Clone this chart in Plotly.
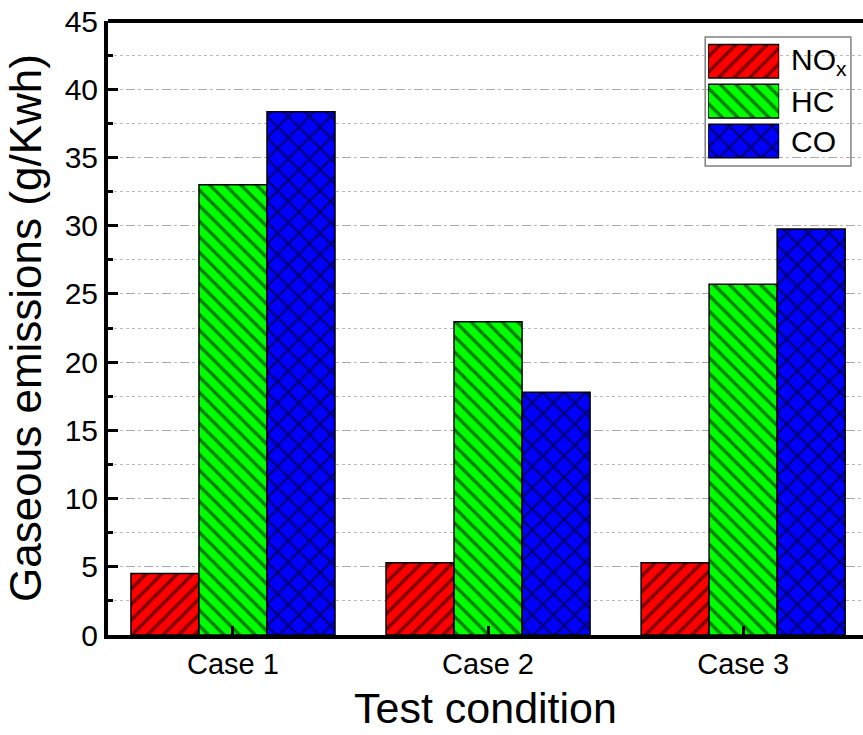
import plotly.graph_objects as go

categories = ["Case 1", "Case 2", "Case 3"]
nox = [4.5, 5.3, 5.3]
hc = [33.0, 22.95, 25.7]
co = [38.35, 17.8, 29.75]

series_names = ["NO<sub>x</sub>", "HC", "CO"]
series_colors = ["#ff0000", "#00ff00", "#0000ff"]
series_patterns = ["/", "\\", "x"]
pattern_sizes = [11, 11, 15]

FONT = "Arial, Liberation Sans, sans-serif"

fig = go.Figure()
for vals, name, col, pat, ps in zip([nox, hc, co], series_names, series_colors, series_patterns, pattern_sizes):
    fig.add_trace(go.Bar(
        x=categories, y=vals, name=name,
        marker=dict(color=col, line=dict(color="black", width=1.5),
                    pattern=dict(shape=pat, fgcolor="black", bgcolor=col, size=ps, solidity=0.3, fillmode="overlay")),
        showlegend=False,
    ))

# custom legend swatches
leg_pos = [2, 1, 0]
for name, col, pat, ps, yp in zip(series_names, series_colors, series_patterns, pattern_sizes, leg_pos):
    fig.add_trace(go.Bar(
        x=[1], y=[yp], orientation="h", width=0.84, xaxis="x2", yaxis="y2",
        marker=dict(color=col, line=dict(color="black", width=1.5),
                    pattern=dict(shape=pat, fgcolor="black", bgcolor=col, size=ps, solidity=0.3, fillmode="overlay")),
        showlegend=False, hoverinfo="skip",
    ))
    fig.add_annotation(text=name, x=0.902, xref="paper", y=yp, yref="y2",
                       xanchor="left", yanchor="middle", showarrow=False,
                       font=dict(family=FONT, size=30, color="black"))

# x axis title as annotation
fig.add_annotation(text="Test condition", x=0.5, xref="paper", y=-0.162, yref="paper",
                   xanchor="center", yanchor="bottom", showarrow=False,
                   font=dict(family=FONT, size=43, color="black"))

fig.update_layout(
    width=863, height=735,
    margin=dict(l=108, r=0, t=21, b=100),
    paper_bgcolor="white", plot_bgcolor="white",
    barmode="group", bargap=0.2, bargroupgap=0,
    font=dict(family=FONT, color="black"),
    xaxis=dict(
        range=[-0.49, 2.47], showline=True, linecolor="black", linewidth=4,
        ticks="inside", ticklen=9, tickwidth=3, tickcolor="black",
        tickfont=dict(size=29), showgrid=False, zeroline=False,
    ),
    yaxis=dict(
        range=[0, 45], tickvals=[0, 5, 10, 15, 20, 25, 30, 35, 40, 45],
        showline=True, linecolor="black", linewidth=4,
        ticks="inside", ticklen=10, tickwidth=3, tickcolor="black",
        tickfont=dict(size=30), zeroline=False,
        showgrid=True, gridcolor="#a8a8a8", gridwidth=1, griddash="dash",
        minor=dict(dtick=2.5, tick0=0, ticks="inside", ticklen=5, tickwidth=3, tickcolor="black",
                   showgrid=True, gridcolor="#b8b8b8", gridwidth=1, griddash="dot"),
        title=dict(text="Gaseous emissions (g/Kwh)", font=dict(size=44), standoff=10),
    ),
    xaxis2=dict(domain=[0.795, 0.889], range=[0, 1], anchor="y2", visible=False, fixedrange=True),
    yaxis2=dict(domain=[0.772, 0.967], range=[-0.5, 2.5], anchor="x2", visible=False, fixedrange=True),
    shapes=[
        dict(type="line", xref="paper", yref="paper", x0=0, x1=1, y0=1, y1=1,
             line=dict(color="black", width=4)),
        dict(type="rect", xref="paper", yref="paper", x0=0.791, x1=0.984, y0=0.764, y1=0.974,
             line=dict(color="#808080", width=1.5), fillcolor="rgba(255,255,255,1)", layer="below"),
    ],
)

fig.write_html("out.html")
